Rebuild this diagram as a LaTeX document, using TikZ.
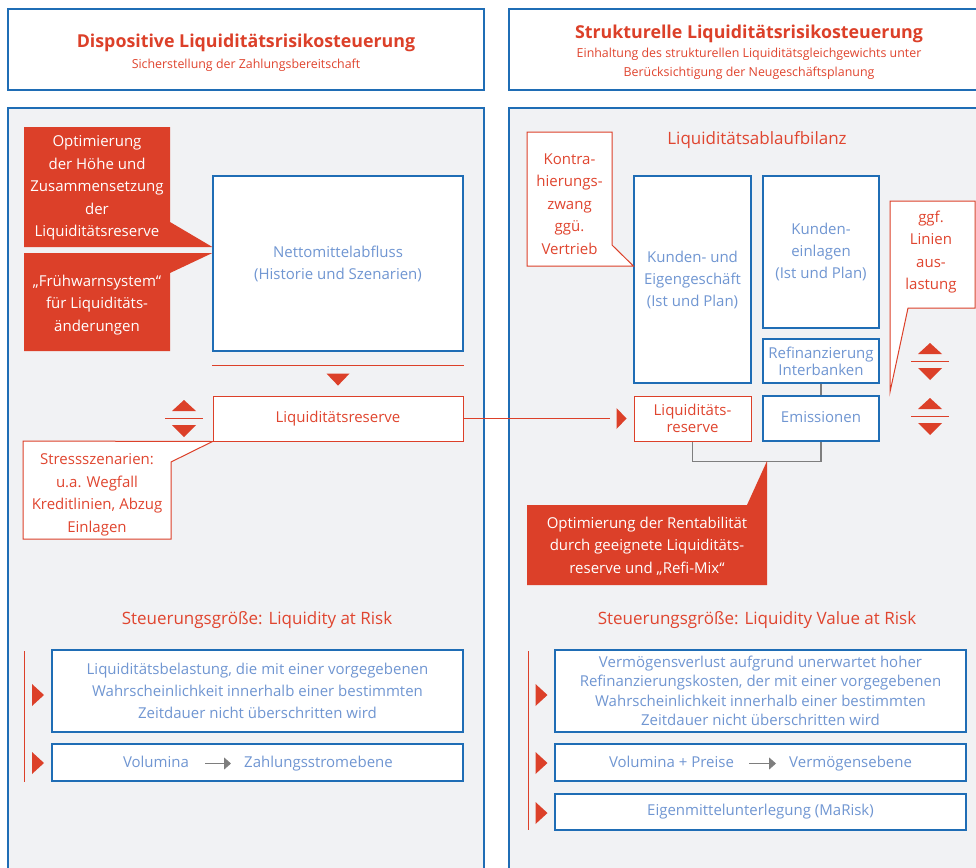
\documentclass[tikz,border=0pt]{standalone}
\usepackage{fontspec}
\setmainfont{Open Sans}
\usetikzlibrary{positioning,arrows.meta}
\definecolor{lqred}{HTML}{DC4029}
\definecolor{lqredtext}{HTML}{E0452F}
\definecolor{lqblue}{HTML}{1F6DB5}
\definecolor{lqbluetext}{HTML}{7096D2}
\definecolor{lqpanel}{HTML}{F1F2F4}
\definecolor{lqgray}{HTML}{7E7E7E}

\tikzset{
    panel/.style={draw=lqblue,fill=lqpanel,line width=1.2pt},
    headbox/.style={draw=lqblue,fill=white,line width=1.2pt,minimum height=81pt},
    headtitle/.style={text=lqred,font=\bfseries\fontsize{17.8}{21}\selectfont},
    headsub/.style={text=lqredtext,align=center,font=\fontsize{12.4}{19}\selectfont},
    bluebox/.style={draw=lqblue,fill=white,line width=1.2pt,text=lqbluetext,align=center,inner sep=0pt,font=\fontsize{15}{22}\selectfont},
    redbox/.style={draw=lqred,fill=white,line width=1pt,text=lqredtext,align=center,inner sep=0pt,font=\fontsize{15}{22}\selectfont},
    plaintext/.style={text=lqbluetext,inner sep=0pt,text height=11pt,text depth=4pt,font=\fontsize{15}{22}\selectfont},
    secttitle/.style={text=lqredtext,text height=12pt,text depth=4pt,font=\fontsize{17}{21}\selectfont},
    calltext/.style={text=white,align=center,inner sep=0pt,font=\fontsize{15}{22.5}\selectfont},
    callred/.style={text=lqredtext,align=center,inner sep=0pt,font=\fontsize{15}{22.5}\selectfont},
    calloutline/.style={draw=lqred,fill=white,line width=1pt},
    redline/.style={draw=lqred,line width=1pt},
    bracket/.style={draw=lqgray,line width=1.2pt},
    grayarrow/.style={draw=lqgray,line width=1pt,-{Triangle[length=7pt,width=12pt]}},
    updown/.pic={
        \fill[lqred] (-12,-7) -- (12,-7) -- (0,-18) -- cycle;
        \draw[lqred,line width=0.8pt] (-19,0) -- (19,0);
        \fill[lqred] (-12,7) -- (12,7) -- (0,19) -- cycle;
    },
    marker/.pic={
        \fill[lqred] (-6,-11) -- (6,0) -- (-6,11) -- cycle;
    }
}

\begin{document}
\begin{tikzpicture}[x=1pt,y=-1pt]
    \useasboundingbox (0,0) rectangle (976,867);
    \clip (0,0) rectangle (976,867);

    % headers
    \node[headbox,minimum width=476pt] (hleft) at (246,49.5) {};
    \node[headtitle] (tleft) at (246,42.5) {Dispositive Liquiditätsrisikosteuerung};
    \node[headsub] (sleft) at (246,65.5) {Sicherstellung der Zahlungsbereitschaft};
    \node[headbox,minimum width=480pt] (hright) at (749,49.5) {};
    \node[headtitle] (tright) at (749,33.5) {Strukturelle Liquiditätsrisikosteuerung};
    \node[headsub] (sright) at (749,64) {Einhaltung des strukturellen Liquiditätsgleichgewichts unter\\Berücksichtigung der Neugeschäftsplanung};

    % panels
    \draw[panel] (8,108) rectangle (484,900);
    \draw[panel] (509,108) rectangle (1000,900);

    % dispositive side
    \node[bluebox,minimum width=250pt,minimum height=175pt] (net) at (338,263.5) {Nettomittelabfluss\\(Historie und Szenarien)};
    \node[redbox,minimum width=250pt,minimum height=45pt,text height=11pt,text depth=4pt] (lres) at (338,418.5) {Liquiditätsreserve};

    \fill[lqred] (24,127) -- (170,127) -- (170,222) -- (net.west |- 0,247) -- (24,247) -- cycle;
    \node[calltext] (optres) at (97,188) {Optimierung\\der Höhe und\\Zusammensetzung\\der\\Liquiditätsreserve};
    \fill[lqred] (24,253) -- (net.west |- 0,253) -- (170,273) -- (170,351) -- (24,351) -- cycle;
    \node[calltext] (warn) at (97,305) {„Frühwarnsystem“\\für Liquiditäts-\\änderungen};

    \draw[redline] ([yshift=-14pt]net.south west) -- ([yshift=-14pt]net.south east);
    \fill[lqred] ([xshift=-11.5pt,yshift=-22pt]net.south) -- ([xshift=11.5pt,yshift=-22pt]net.south) -- ([yshift=-34pt]net.south) -- cycle;
    \pic at (184,418) {updown};

    \draw[calloutline] (23,441) -- (lres.south west) -- (171,462) -- (171,539) -- (23,539) -- cycle;
    \node[callred] (stress) at (97,495) {Stressszenarien:\\u.a. Wegfall\\Kreditlinien, Abzug\\Einlagen};

    \node[secttitle] (lar) at (257,620) {Steuerungsgröße: Liquidity at Risk};
    \draw[redline] (24,651) -- (24,782);
    \node[bluebox,minimum width=411pt,minimum height=82pt] (lar1) at (257.5,691) {Liquiditätsbelastung, die mit einer vorgegebenen\\Wahrscheinlichkeit innerhalb einer bestimmten\\Zeitdauer nicht überschritten wird};
    \node[bluebox,minimum width=411pt,minimum height=37pt] (lar2) at (257.5,762.5) {};
    \node[plaintext] (vol) at (156,763.5) {Volumina};
    \node[plaintext,anchor=west] (zse) at (244,763.5) {Zahlungsstromebene};
    \draw[grayarrow,shorten <=16pt,shorten >=13pt] (vol.east) -- (zse.west);
    \pic at (38,695) {marker};
    \pic at (38,763) {marker};

    % strukturelle side
    \node[secttitle] (lab) at (757,140) {Liquiditätsablaufbilanz};
    \node[bluebox,minimum width=117pt,minimum height=207pt] (keg) at (692.5,279.5) {Kunden- und\\Eigengeschäft\\(Ist und Plan)};
    \node[bluebox,minimum width=116pt,minimum height=152pt] (kein) at (821,252) {Kunden-\\einlagen\\(Ist und Plan)};
    \node[bluebox,minimum width=116pt,minimum height=44pt,font=\fontsize{15}{17}\selectfont] (refi) at (821,361) {Refinanzierung\\Interbanken};
    \node[redbox,minimum width=117pt,minimum height=45pt,font=\fontsize{15}{17}\selectfont] (rres) at (692.5,418.5) {Liquiditäts-\\reserve};
    \node[bluebox,minimum width=116pt,minimum height=45pt,text height=11pt,text depth=4pt] (emis) at (821,418.5) {Emissionen};

    \draw[bracket] (refi) -- (emis);
    \draw[bracket] (rres.south) -- ++(0,20) coordinate (brk) -| (emis.south);

    \draw[redline] (lres.east) -- ([xshift=-24pt]rres.west);
    \fill[lqred] ([xshift=-17pt,yshift=10.5pt]rres.west) -- ([xshift=-7pt]rres.west) -- ([xshift=-17pt,yshift=-10.5pt]rres.west) -- cycle;

    \draw[calloutline] (527,132) -- (612,132) -- (612,245) -- (keg.west |- 0,266) -- (527,266) -- cycle;
    \node[callred] (kontra) at (569.5,204) {Kontra-\\hierungs-\\zwang\\ggü.\\Vertrieb};

    \draw[calloutline] (890,201) -- (975,201) -- (975,308) -- (908,308) -- (890,392) -- cycle;
    \node[callred] (linien) at (931,252) {ggf.\\Linien\\aus-\\lastung};
    \pic at (930,361) {updown};
    \pic at (930,416) {updown};

    \fill[lqred] (527,505) -- (747,505) -- (767,461) -- (767,585) -- (527,585) -- cycle;
    \node[calltext] (rent) at (647,546) {Optimierung der Rentabilität\\durch geeignete Liquiditäts-\\reserve und „Refi-Mix“};

    \node[secttitle] (lvar) at (757,620) {Steuerungsgröße: Liquidity Value at Risk};
    \draw[redline] (528,651) -- (528,830);
    \node[bluebox,minimum width=411pt,minimum height=82pt,font=\fontsize{15}{19.5}\selectfont] (lvar1) at (760.5,691) {Vermögensverlust aufgrund unerwartet hoher\\Refinanzierungskosten, der mit einer vorgegebenen\\Wahrscheinlichkeit innerhalb einer bestimmten\\Zeitdauer nicht überschritten wird};
    \node[bluebox,minimum width=411pt,minimum height=37pt] (lvar2) at (760.5,762.5) {};
    \node[plaintext] (volp) at (671.5,763.5) {Volumina + Preise};
    \node[plaintext,anchor=west] (vme) at (789,763.5) {Vermögensebene};
    \draw[grayarrow,shorten <=15pt,shorten >=13pt] (volp.east) -- (vme.west);
    \node[bluebox,minimum width=411pt,minimum height=36pt] (lvar3) at (760.5,812) {Eigenmittelunterlegung (MaRisk)};
    \pic at (541.5,695) {marker};
    \pic at (541.5,763) {marker};
    \pic at (541.5,813) {marker};
\end{tikzpicture}
\end{document}
